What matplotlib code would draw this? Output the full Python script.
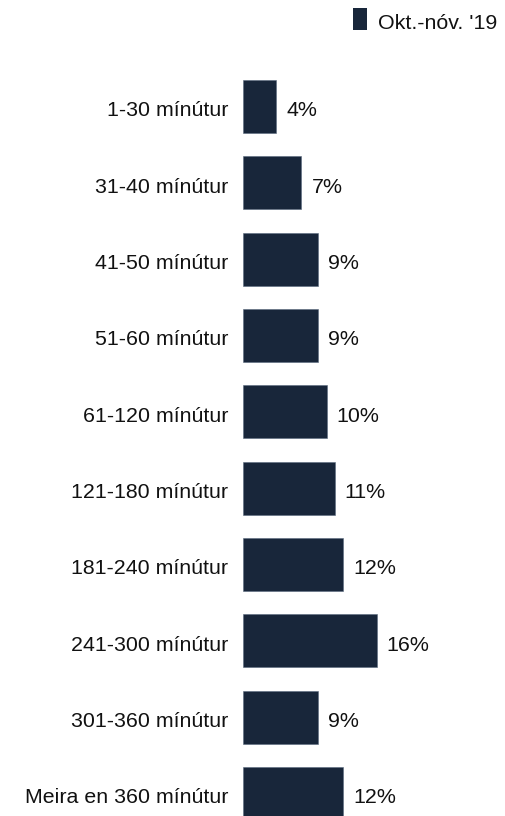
import matplotlib
matplotlib.use("Agg")
import matplotlib.pyplot as plt
from matplotlib.patches import Rectangle

categories = ["1-30 mínútur", "31-40 mínútur", "41-50 mínútur", "51-60 mínútur",
              "61-120 mínútur", "121-180 mínútur", "181-240 mínútur",
              "241-300 mínútur", "301-360 mínútur", "Meira en 360 mínútur"]
values = [4, 7, 9, 9, 10, 11, 12, 16, 9, 12]
series_name = "Okt.-nóv. '19"

plt.rcParams['font.family'] = ['Liberation Sans', 'DejaVu Sans']
color = "#18263a"
fs = 15.4

W, H = 506, 816
fig = plt.figure(figsize=(W/100, H/100), dpi=100)
px_per_pct = 8.35
ax_left = 243
ax_w = 260
ax = fig.add_axes([ax_left/W, 0, ax_w/W, 1])
ax.set_xlim(0, ax_w/px_per_pct)
spacing = 76.33
top_c = 106.5
ax.set_ylim((H - top_c)/spacing, -top_c/spacing)

base_off = 10/spacing
ys = list(range(len(categories)))
ax.barh(ys, values, height=53/spacing, color=color, edgecolor="#5a6a7e", linewidth=0.4)
for y, v, c in zip(ys, values, categories):
    ax.text(v + 10/px_per_pct, y + base_off, f"{v}%", va="baseline", ha="left", fontsize=fs, color="#111111")
    ax.text(-15/px_per_pct, y + base_off, c, va="baseline", ha="right", fontsize=fs, color="#111111", clip_on=False)

ax.axis("off")

# legend
fig.patches.append(Rectangle((353/W, 1 - 30/H), 14/W, 22/H, transform=fig.transFigure,
                             facecolor=color, edgecolor="none"))
fig.text(378/W, 1 - 29/H, series_name, ha="left", va="baseline", fontsize=fs, color="#111111")

fig.savefig("out.png", dpi=100)
